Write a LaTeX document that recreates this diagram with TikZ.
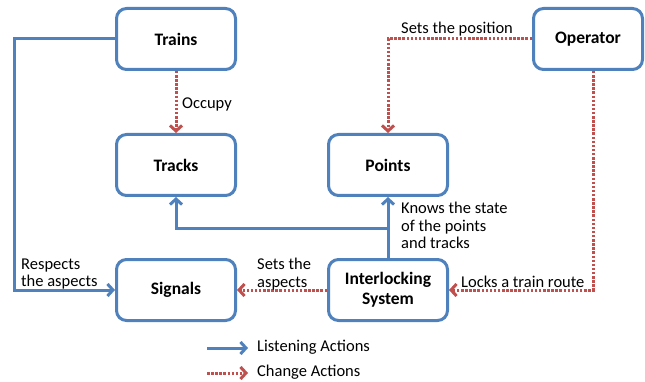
\documentclass[tikz,border=0pt]{standalone}
\usepackage{fontspec}
\setmainfont{Carlito}
\usetikzlibrary{arrows.meta}
\definecolor{lblue}{RGB}{79,129,189}
\definecolor{lred}{RGB}{192,80,77}
\tikzset{
  box/.style={draw=lblue, line width=3pt, rounded corners=10pt, fill=white,
    minimum width=119pt, minimum height=61pt, inner sep=2pt, align=center,
    font=\fontsize{17.5}{20}\selectfont\bfseries},
  listen/.style={draw=lblue, line width=3pt, -{Straight Barb[length=5.5pt,width=12pt]}},
  change/.style={draw=lred, line width=3pt, dash pattern=on 2.5pt off 1.6pt,
    -{Straight Barb[length=5.5pt,width=12pt]}},
  lbl/.style={inner sep=0pt, align=left, text=black,
    font=\fontsize{16.5}{17.5}\selectfont}
}
\begin{document}
\begin{tikzpicture}[x=1pt,y=-1pt]
\useasboundingbox (0,0) rectangle (645,382);
\node[box] (trains) at (176,39) {Trains};
\node[box] (tracks) at (176,165) {Tracks};
\node[box] (points) at (388,165) {Points};
\node[box, minimum width=109pt] (operator) at (588,39) {Operator};
\node[box] (signals) at (176,290) {Signals};
\node[box] (inter) at (388,290) {Interlocking\\System};

\coordinate (lft) at (14,290);
\coordinate (junc) at (388,228);

\draw[listen] (trains.west) -| (lft) -- (signals.west);
\draw[change] (trains.south) -- (tracks.north);
\draw[change] (operator.west) -| (points.north);
\draw[change] ([xshift=5pt]operator.south) |- (inter.east);
\draw[listen] (inter.north) -- (points.south);
\draw[listen] (junc) -| (tracks.south);
\draw[change] (inter.west) -- (signals.east);

\node[lbl, anchor=west] (occ) at (182,104) {Occupy};
\node[lbl, anchor=west] (setpos) at (401,29) {Sets the position};
\node[lbl, anchor=west] (resp) at (21,274) {Respects\\the aspects};
\node[lbl, anchor=west] (setasp) at (257,274) {Sets the\\aspects};
\node[lbl, anchor=north west] (knows) at (401,202) {Knows the state\\of the points\\and tracks};
\node[lbl, anchor=west] (locks) at (461,282) {Locks a train route};

\coordinate (la) at (207,348);
\coordinate (lb) at (248,348);
\coordinate (lc) at (207,373);
\coordinate (ld) at (248,373);
\draw[listen] (la) -- (lb);
\draw[change] (lc) -- (ld);
\node[lbl, anchor=west] (leg1) at (257,347) {Listening Actions};
\node[lbl, anchor=west] (leg2) at (257,372) {Change Actions};
\end{tikzpicture}
\end{document}
